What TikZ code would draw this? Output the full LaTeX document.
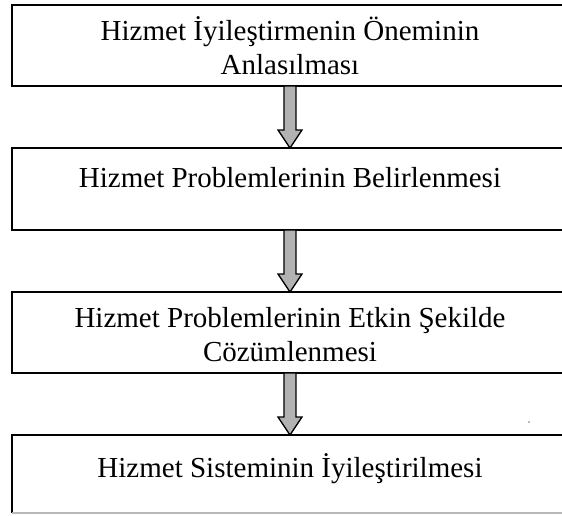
\documentclass[tikz,border=0pt]{standalone}
\usepackage{fontspec}
\setmainfont{Liberation Serif}
\usetikzlibrary{calc}
\begin{document}
\begin{tikzpicture}[x=1pt,y=-1pt,
  stagebox/.style={draw=black, line width=1.6pt, inner sep=0pt, outer sep=0pt,
    minimum width=556pt, rectangle},
  stagetext/.style={anchor=base, inner sep=0pt, font=\fontsize{29}{35}\selectfont},
  fatarrow/.style={draw=black, line width=1.3pt, fill=gray!60, line join=miter}]
  \useasboundingbox (0,0) rectangle (562,515);
  \begin{scope}
  \clip (0,0) rectangle (562,515);
  % stage boxes
  \node[stagebox, minimum height=81pt] (b1) at (290,45.5) {};
  \node[stagebox, minimum height=82pt] (b2) at (290,189) {};
  \node[stagebox, minimum height=81pt] (b3) at (290,332.5) {};
  \node[rectangle, inner sep=0pt, outer sep=0pt, minimum width=556pt, minimum height=78pt] (b4) at (290,474) {};
  \draw[line width=1.6pt] (b4.south west) -- (b4.north west) -- (b4.north east);
  \draw[gray!55, line width=1.2pt] (b4.south west) -- (b4.south east);
  \end{scope}

  % labels
  \node[stagetext] (t1a) at (290,40) {Hizmet İyileştirmenin Öneminin};
  \node[stagetext] (t1b) at (290,74) {Anlasılması};
  \node[stagetext] (t2) at (290,187) {Hizmet Problemlerinin Belirlenmesi};
  \node[stagetext] (t3a) at (290,327) {Hizmet Problemlerinin Etkin Şekilde};
  \node[stagetext] (t3b) at (290,361) {Cözümlenmesi};
  \node[stagetext] (t4) at (290,477) {Hizmet Sisteminin İyileştirilmesi};

  % block arrows between stages
  \foreach \a/\b in {b1/b2, b2/b3, b3/b4}{
    \draw[fatarrow] ($(\a.south)+(-6,0)$) -- ($(\b.north)+(-6,-18)$) -- ++(-6,0)
      -- (\b.north) -- ($(\b.north)+(12,-18)$) -- ++(-6,0)
      -- ($(\a.south)+(6,0)$) -- cycle;
  }

  % speck
  \fill[gray!70] (529,422) circle (1.1pt);
\end{tikzpicture}
\end{document}
